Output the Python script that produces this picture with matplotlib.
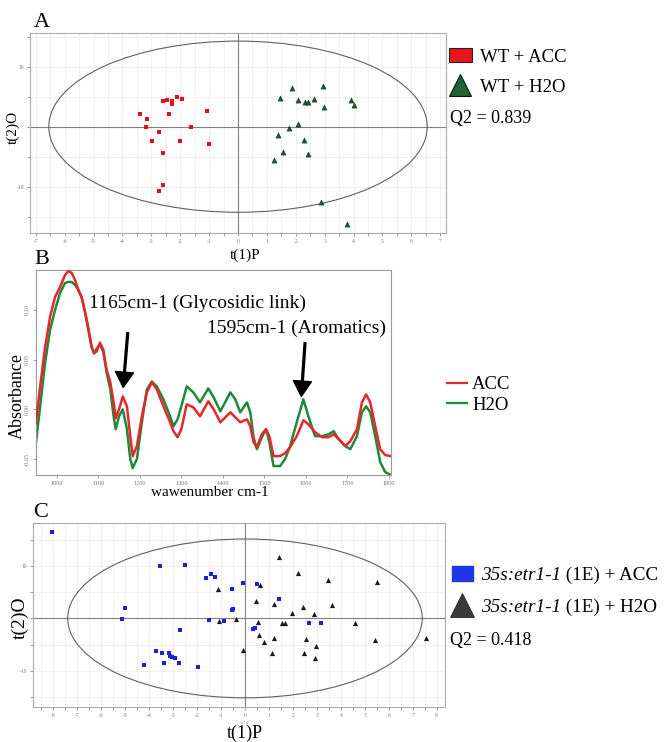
import matplotlib
matplotlib.use("Agg")
import matplotlib.pyplot as plt
from matplotlib.patches import Ellipse, Patch
from matplotlib.lines import Line2D
import numpy as np

plt.rcParams['font.family'] = ['Liberation Serif', 'DejaVu Serif']

W, H = 666, 742

# ---- panel A: OPLS-DA scores, wild type
wt_acc_t1 = [-3.39, -3.14, -3.20, -2.74, -2.96, -2.61, -2.59, -2.72, -2.58, -2.47,
             -2.30, -2.29, -2.12, -1.94, -2.39, -2.01, -1.63, -1.07, -1.01]
wt_acc_t2 = [2.17, 1.33, -0.05, -0.95, -2.33, -4.45, -9.67, -10.67, 4.33, 4.50,
             4.28, 3.72, 5.00, 4.62, 2.12, -2.33, -0.05, 2.55, -2.88]
wt_h2o_t1 = [1.86, 2.93, 1.46, 2.07, 2.33, 2.43, 2.62, 2.97, 3.91, 4.00,
             2.08, 1.75, 1.40, 2.28, 1.57, 2.41, 1.25, 2.88, 3.77]
wt_h2o_t2 = [6.44, 6.72, 4.78, 4.44, 4.17, 4.17, 4.67, 3.22, 4.50, 3.61,
             0.39, -0.28, -1.39, -2.17, -4.22, -4.61, -5.56, -12.5, -16.2]
wt_labels = ['WT + ACC', 'WT + H2O']
wt_q2 = 0.839
wt_ellipse = (6.55, 14.25)

# ---- panel B: mean FTIR spectra
wavenumber = [950, 960, 972, 984, 996, 1008, 1020, 1028, 1036, 1044, 1052, 1060, 1068,
              1076, 1084, 1090, 1096, 1104, 1112, 1120, 1129, 1137, 1142, 1150, 1159,
              1169, 1177, 1183, 1193, 1205, 1217, 1229, 1241, 1257, 1273, 1281, 1291,
              1300, 1313, 1329, 1345, 1365, 1378, 1394, 1418, 1430, 1442, 1458, 1466,
              1474, 1482, 1494, 1504, 1512, 1522, 1538, 1550, 1562, 1578, 1594, 1606,
              1622, 1639, 1655, 1667, 1679, 1695, 1707, 1723, 1735, 1745, 1755, 1767,
              1779, 1791, 1805]
acc_abs = [-0.013, 0.023, 0.063, 0.093, 0.113, 0.123, 0.135, 0.139, 0.137, 0.130,
           0.120, 0.112, 0.098, 0.082, 0.063, 0.057, 0.058, 0.067, 0.060, 0.040,
           0.027, 0.007, -0.009, 0.000, 0.013, 0.003, -0.027, -0.047, -0.037, -0.007,
           0.017, 0.027, 0.020, 0.003, -0.013, -0.022, -0.028, -0.020, 0.005, 0.002,
           -0.007, 0.008, 0.000, -0.013, -0.003, -0.008, -0.013, -0.010, -0.017, -0.033,
           -0.038, -0.025, -0.020, -0.027, -0.047, -0.047, -0.044, -0.038, -0.027, -0.011,
           -0.015, -0.023, -0.028, -0.028, -0.025, -0.030, -0.037, -0.032, -0.020, 0.007,
           0.015, 0.007, -0.017, -0.040, -0.046, -0.047]
h2o_abs = [-0.033, 0.003, 0.047, 0.080, 0.100, 0.117, 0.127, 0.128, 0.128, 0.125,
           0.120, 0.113, 0.098, 0.080, 0.062, 0.056, 0.061, 0.065, 0.058, 0.037,
           0.020, -0.007, -0.020, -0.007, 0.000, -0.020, -0.050, -0.059, -0.050, -0.013,
           0.020, 0.028, 0.023, 0.010, -0.007, -0.017, -0.010, 0.003, 0.023, 0.017,
           0.007, 0.021, 0.012, -0.002, 0.017, 0.010, -0.003, 0.007, -0.003, -0.028,
           -0.040, -0.028, -0.020, -0.033, -0.057, -0.057, -0.050, -0.037, -0.013, 0.010,
           -0.007, -0.027, -0.027, -0.025, -0.022, -0.030, -0.037, -0.040, -0.027, -0.003,
           0.003, -0.003, -0.027, -0.053, -0.063, -0.066]
spec_labels = ['ACC', 'H2O']
band_glyco = (1160, 0.022, '1165cm-1 (Glycosidic link)')
band_arom = (1589, 0.013, '1595cm-1 (Aromatics)')

# ---- panel C: OPLS-DA scores, 35s:etr1-1
etr_acc_t1 = [-8.07, -3.55, -2.52, -1.63, -1.40, -1.25, -0.54, -0.08, 0.49, 1.43,
              -0.51, -0.56, -5.01, -5.12, -1.52, -0.89, -2.71, 0.35, 0.42, 2.68,
              3.18, -3.73, -3.46, -3.17, -3.13, -3.03, -2.92, -3.37, -2.74, -4.23, -1.96]
etr_acc_t2 = [16.5, 9.97, 10.22, 7.75, 8.38, 7.81, 5.65, 6.67, 6.48, 3.62,
              1.84, 1.59, 2.03, -0.19, -0.38, -0.51, -2.29, -2.03, -1.78, -0.89,
              -0.95, -6.16, -6.67, -6.54, -7.17, -7.43, -7.62, -8.51, -8.44, -8.83, -9.21]
etr_h2o_t1 = [1.40, 2.21, 3.48, 5.52, 0.64, -1.11, 0.47, 1.22, 3.63, 2.43,
              1.97, 2.87, -0.38, -1.10, 0.54, 1.54, 1.68, 4.58, 0.60, 1.22,
              2.56, 5.41, 7.54, 0.81, 2.96, -0.08, 1.13, 2.45, 2.91]
etr_h2o_t2 = [11.62, 8.70, 7.30, 6.86, 6.29, 5.59, 3.24, 2.73, 2.54, 2.16,
              0.95, 0.76, -0.13, -0.44, -0.63, -0.89, -0.89, -0.89, -3.17, -3.81,
              -4.00, -4.06, -3.81, -4.44, -5.33, -6.10, -6.60, -6.54, -7.62]
etr_genotype = '35s:etr1-1'
etr_treatments = [' (1E) + ACC', ' (1E) + H2O']
etr_q2 = 0.418
etr_ellipse = (7.4, 15.15)


def px(x, y):
    return (x / W, 1 - y / H)


def style_scores(ax, xlim, ylim, semi):
    ax.set_xlim(xlim)
    ax.set_ylim(ylim)
    xmaj = np.arange(np.ceil(xlim[0]), np.floor(xlim[1]) + 1)
    ax.set_xticks(xmaj)
    ax.set_xticklabels([f'{v:g}' for v in xmaj])
    ax.set_xticks(np.arange(np.ceil(xlim[0] * 2) / 2, xlim[1], 0.5), minor=True)
    ymaj = np.arange(np.ceil(ylim[0] / 5) * 5, ylim[1], 5)
    ax.set_yticks(ymaj)
    ax.set_yticklabels([f'{v:g}' if abs(v) == 10 else '' for v in ymaj])
    ax.grid(True, which='both', axis='x', color='#ececec', lw=0.6)
    ax.grid(True, which='major', axis='y', color='#ececec', lw=0.6)
    ax.set_axisbelow(True)
    ax.axhline(0, color='#808080', lw=0.8, zorder=1)
    ax.axvline(0, color='#808080', lw=0.8, zorder=1)
    ax.add_patch(Ellipse((0, 0), 2 * semi[0], 2 * semi[1], fill=False,
                         ec='#606060', lw=0.8, zorder=1))
    ax.tick_params(which='both', labelsize=4, colors='#777777', length=2.5,
                   width=0.5, pad=1.5)
    for s in ax.spines.values():
        s.set_color('#aaaaaa')
        s.set_linewidth(0.8)


fig = plt.figure(figsize=(W / 100, H / 100), dpi=100)
ax_a = fig.add_axes([30 / W, 1 - 233 / H, 416 / W, 200 / H])
ax_b = fig.add_axes([36 / W, 1 - 475 / H, 355 / W, 205 / H])
ax_c = fig.add_axes([33 / W, 1 - 707 / H, 412 / W, 184 / H])

# ---------------- A
style_scores(ax_a, (-7.2, 7.2), (-17.7, 15.6), wt_ellipse)
ax_a.scatter(wt_acc_t1, wt_acc_t2, marker='s', s=10, c='#e3101c', lw=0, zorder=3)
ax_a.scatter(wt_h2o_t1, wt_h2o_t2, marker='^', s=14, c='#1b5e2c',
             edgecolors='#111111', lw=0.3, zorder=3)

handles_a = [Patch(facecolor='#e8141b', edgecolor='#222222', lw=0.8),
             Line2D([], [], ls='none', marker='^', ms=16, mfc='#1b6434',
                    mec='#111111', mew=0.8)]
fig.legend(handles_a, wt_labels, loc='upper left', bbox_to_anchor=px(449, 48),
           frameon=False, fontsize=13.5, handlelength=1.2, handleheight=0.78,
           handletextpad=0.45, labelspacing=0.68, borderpad=0, borderaxespad=0)
fig.text(*px(450, 118), f'Q2 = {wt_q2}', va='center', fontsize=13)
fig.text(*px(34, 27), 'A', fontsize=16, va='baseline')
fig.text(*px(245, 255), 't(1)P', ha='center', va='center', fontsize=11)
fig.text(*px(13, 127), 't(2)O', ha='center', va='center', rotation=90, fontsize=11)

# ---------------- B
ax_b.plot(wavenumber, h2o_abs, color='#1e8a38', lw=1.8, zorder=2)
ax_b.plot(wavenumber, acc_abs, color='#e8262b', lw=1.8, zorder=3)
ax_b.set_xlim(950, 1805)
ax_b.set_ylim(-0.066, 0.14)
ax_b.set_xticks(np.arange(1000, 1801, 100))
ax_b.set_yticks([-0.05, 0.0, 0.05, 0.10])
ax_b.set_yticklabels(['-0.05', '0.00', '0.05', '0.10'], rotation=90, va='center')
ax_b.tick_params(labelsize=4.5, colors='#777777', length=2.5, width=0.5, pad=2)
for s in ax_b.spines.values():
    s.set_color('#999999')
    s.set_linewidth(0.8)

arrow_kw = dict(facecolor='black', edgecolor='black', width=1.3, headwidth=13,
                headlength=11, shrink=0)
ax_b.annotate('', xy=band_glyco[:2], xytext=(band_glyco[0] + 11, band_glyco[1] + 0.055),
              arrowprops=arrow_kw)
ax_b.annotate('', xy=band_arom[:2], xytext=(band_arom[0] + 9, band_arom[1] + 0.054),
              arrowprops=arrow_kw)
ax_b.text(1338, 0.106, band_glyco[2], ha='center', va='center', fontsize=14)
ax_b.text(1577, 0.081, band_arom[2], ha='center', va='center', fontsize=14)

handles_b = [Line2D([], [], color='#e8262b', lw=1.6), Line2D([], [], color='#1e8a38', lw=1.6)]
fig.legend(handles_b, spec_labels, loc='upper left', bbox_to_anchor=px(447, 376),
           frameon=False, fontsize=13.5, handlelength=1.07, handletextpad=0.27,
           labelspacing=0.2, borderpad=0, borderaxespad=0)
fig.text(*px(34, 264), 'B', fontsize=16, va='baseline')
fig.text(*px(210, 493), 'wawenumber cm-1', ha='center', va='center', fontsize=11)
fig.text(*px(17, 396), 'Absorbance', ha='center', va='center', rotation=90, fontsize=13)

# ---------------- C
style_scores(ax_c, (-8.85, 8.35), (-16.9, 18.2), etr_ellipse)
ax_c.scatter(etr_acc_t1, etr_acc_t2, marker='s', s=12, c='#1a22d8', lw=0, zorder=3)
ax_c.scatter(etr_h2o_t1, etr_h2o_t2, marker='^', s=14, c='#1a1a1a', lw=0, zorder=3)

handles_c = [Patch(facecolor='#1f35e6', edgecolor='#1f35e6'),
             Line2D([], [], ls='none', marker='^', ms=17, mfc='#3a3a3a',
                    mec='#222222', mew=0.6)]
leg_c = fig.legend(handles_c, [etr_genotype] * 2, loc='upper left',
                   bbox_to_anchor=px(452, 566), frameon=False,
                   prop=dict(style='italic', size=13.8), handlelength=1.08,
                   handleheight=0.8, handletextpad=0.45, labelspacing=0.74,
                   borderpad=0, borderaxespad=0)
fig.text(*px(450, 640), f'Q2 = {etr_q2}', va='center', fontsize=13)
fig.text(*px(33, 517), 'C', fontsize=16, va='baseline')
fig.text(*px(245, 722), 't(1)P', ha='center', va='center', fontsize=3, color='#888888')
fig.text(*px(245, 733), 't(1)P', ha='center', va='center', fontsize=13)
fig.text(*px(20, 618), 't(2)O', ha='center', va='center', rotation=90, fontsize=14)

# the non-italic tail of the genotype labels goes right after the legend texts
fig.canvas.draw()
for t, rest in zip(leg_c.get_texts(), etr_treatments):
    bb = t.get_window_extent()
    fig.text(bb.x1 / W, bb.y0 / H, rest, ha='left', va='bottom', fontsize=13.8)

fig.savefig('out.png', dpi=100)
